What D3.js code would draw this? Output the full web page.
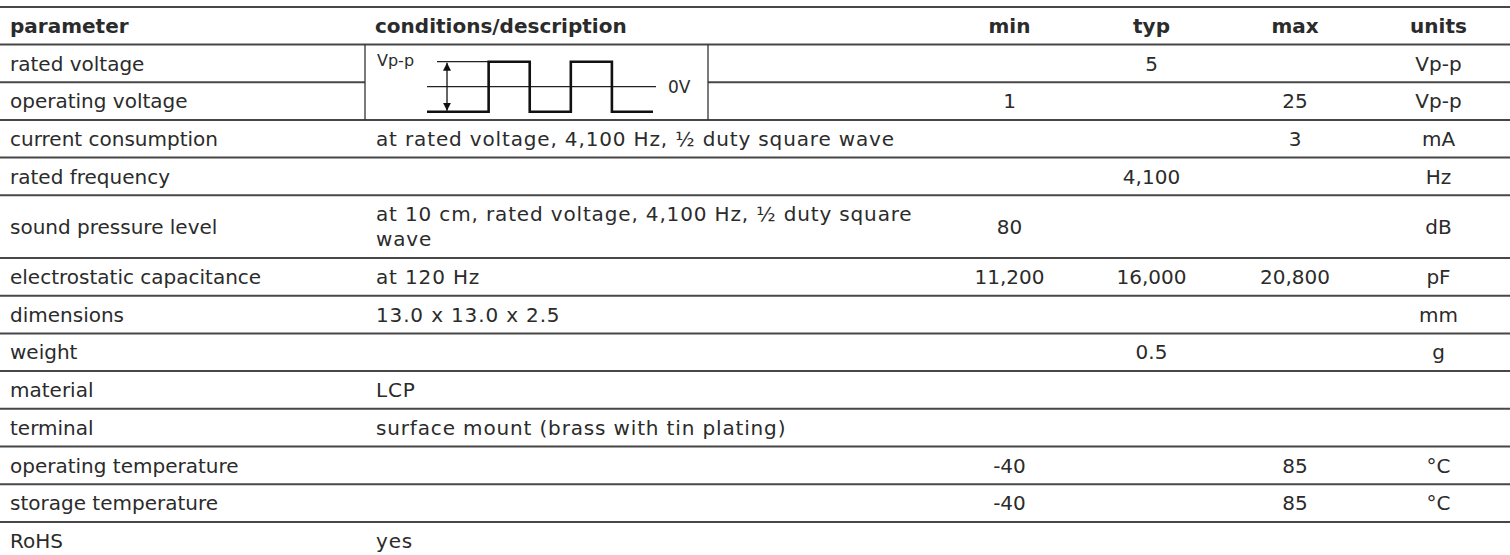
<!DOCTYPE html>
<html>
<head>
<meta charset="utf-8">
<script src="https://cdn.jsdelivr.net/npm/d3@7"></script>
<style>
  html, body { margin: 0; padding: 0; background: #ffffff; }
  svg { display: block; }
  text { font-family: "DejaVu Sans", Verdana, sans-serif; fill: #2b2b2b; }
</style>
</head>
<body>
<svg id="chart" width="1510" height="555"></svg>
<script>
// ---------- data ----------
const headers = ["parameter", "conditions/description", "min", "typ", "max", "units"];
const params = ["rated voltage", "operating voltage", "current consumption", "rated frequency",
  "sound pressure level", "electrostatic capacitance", "dimensions", "weight", "material",
  "terminal", "operating temperature", "storage temperature", "RoHS"];
const conditions = ["", "", "at rated voltage, 4,100 Hz, ½ duty square wave", "",
  "at 10 cm, rated voltage, 4,100 Hz, ½ duty square wave", "at 120 Hz", "13.0 x 13.0 x 2.5", "",
  "LCP", "surface mount (brass with tin plating)", "", "", "yes"];
const minVals = ["", "1", "", "", "80", "11,200", "", "", "", "", "-40", "-40", ""];
const typVals = ["5", "", "", "4,100", "", "16,000", "", "0.5", "", "", "", "", ""];
const maxVals = ["", "25", "3", "", "", "20,800", "", "", "", "", "85", "85", ""];
const unitVals = ["Vp-p", "Vp-p", "mA", "Hz", "dB", "pF", "mm", "g", "", "", "°C", "°C", ""];
// waveform illustration (rated voltage): step positions and levels
const waveX = [0, 1.5, 2.5, 3.5, 4.5, 5.5];
const waveLevel = [-1, 1, -1, 1, -1, -1];
const waveLabels = ["Vp-p", "0V"];

// ---------- layout ----------
const W = 1510;
const svg = d3.select("#chart");
const fontSize = 20;
const condSpacing = 0.85;
const top0 = 7, headerH = 37.5, baseRowH = 37.7, extraLineH = 25;
const colEdges = [0, 365, 939, 1080, 1223, 1367, W];
const pad = 10;
const lineColor = "#474747";

// text wrapping for conditions
const meas = svg.append("text").attr("font-size", fontSize).attr("letter-spacing", condSpacing)
  .attr("x", -1000).attr("y", -1000);
const condWidth = colEdges[2] - colEdges[1] - 2 * pad;
function wrap(str) {
  if (!str) return [""];
  const words = str.split(" ");
  const lines = [];
  let cur = "";
  words.forEach(w => {
    const t = cur ? cur + " " + w : w;
    meas.text(t);
    if (meas.node().getComputedTextLength() > condWidth && cur) {
      lines.push(cur); cur = w;
    } else cur = t;
  });
  lines.push(cur);
  return lines;
}
const condLines = conditions.map(wrap);
meas.remove();

const rowH = condLines.map(l => baseRowH + (l.length - 1) * extraLineH);
const rowTop = [];
let acc = top0 + headerH;
rowH.forEach(h => { rowTop.push(acc); acc += h; });
const rowMid = rowTop.map((t, i) => t + rowH[i] / 2);

const colCenter = i => (colEdges[i] + colEdges[i + 1]) / 2;

// ---------- grid lines ----------
const g = svg.append("g");
function hline(x1, x2, y) {
  g.append("line").attr("x1", x1).attr("x2", x2).attr("y1", y).attr("y2", y)
    .attr("stroke", lineColor).attr("stroke-width", 2);
}
hline(0, W, top0);
hline(0, W, top0 + headerH);
rowTop.forEach((t, i) => {
  if (i === rowTop.length - 1) return;
  const y = t + rowH[i];
  if (i === 0) { hline(0, colEdges[1], y); hline(708, W, y); }
  else hline(0, W, y);
});
// waveform cell borders
const wTop = rowTop[0], wBot = rowTop[1] + rowH[1];
[colEdges[1], 708].forEach(x => {
  g.append("line").attr("x1", x).attr("x2", x).attr("y1", wTop).attr("y2", wBot)
    .attr("stroke", "#333").attr("stroke-width", 1.3);
});

// ---------- header ----------
const hy = top0 + headerH / 2;
headers.forEach((h, i) => {
  const left = i < 2;
  svg.append("text")
    .attr("x", left ? colEdges[i] + pad : colCenter(i))
    .attr("y", hy).attr("dy", "0.36em")
    .attr("text-anchor", left ? "start" : "middle")
    .attr("font-size", fontSize).attr("font-weight", "bold")
    .text(h);
});

// ---------- body ----------
const body = svg.append("g");
params.forEach((p, i) => {
  body.append("text").attr("x", colEdges[0] + pad).attr("y", rowMid[i]).attr("dy", "0.36em")
    .attr("font-size", fontSize).text(p);
  const lines = condLines[i];
  const n = lines.length;
  lines.forEach((l, k) => {
    if (!l) return;
    body.append("text").attr("x", colEdges[1] + pad + 1)
      .attr("y", rowMid[i] + (k - (n - 1) / 2) * extraLineH).attr("dy", "0.36em")
      .attr("font-size", fontSize).attr("letter-spacing", condSpacing).text(l);
  });
  [minVals, typVals, maxVals, unitVals].forEach((arr, c) => {
    if (!arr[i]) return;
    body.append("text").attr("x", colCenter(c + 2)).attr("y", rowMid[i]).attr("dy", "0.36em")
      .attr("text-anchor", "middle").attr("font-size", fontSize).text(arr[i]);
  });
});

// ---------- waveform ----------
const wx = d3.scaleLinear().domain([0, 5.5]).range([427, 653]);
const wy = d3.scaleLinear().domain([-1, 1]).range([111.7, 61.7]);
const wave = svg.append("g");
// 0V reference
wave.append("line").attr("x1", wx(0)).attr("x2", 656).attr("y1", wy(0)).attr("y2", wy(0))
  .attr("stroke", "#222").attr("stroke-width", 1.3);
// top reference
wave.append("line").attr("x1", 437).attr("x2", wx(1.5)).attr("y1", wy(1)).attr("y2", wy(1))
  .attr("stroke", "#222").attr("stroke-width", 1.3);
// square wave
const pts = waveX.map((x, i) => [x, waveLevel[i]]);
wave.append("path")
  .attr("d", d3.line().x(d => wx(d[0])).y(d => wy(d[1])).curve(d3.curveStepAfter)(pts))
  .attr("fill", "none").attr("stroke", "#111").attr("stroke-width", 2.6);
// double arrow
const defs = svg.append("defs");
defs.append("marker").attr("id", "ah").attr("viewBox", "0 0 10 10").attr("refX", 10).attr("refY", 5)
  .attr("markerWidth", 8).attr("markerHeight", 9).attr("markerUnits", "userSpaceOnUse")
  .attr("orient", "auto-start-reverse")
  .append("path").attr("d", "M0,0 L10,5 L0,10 Z").attr("fill", "#111");
const ax = 447;
wave.append("line").attr("x1", ax).attr("x2", ax).attr("y1", wy(1) + 1).attr("y2", wy(-1) - 1)
  .attr("stroke", "#111").attr("stroke-width", 1.3)
  .attr("marker-start", "url(#ah)").attr("marker-end", "url(#ah)");
wave.append("text").attr("x", 377).attr("y", 66).attr("font-size", 16).text(waveLabels[0]);
wave.append("text").attr("x", 668).attr("y", wy(0)).attr("dy", "0.36em").attr("font-size", 17).text(waveLabels[1]);
</script>
</body>
</html>
